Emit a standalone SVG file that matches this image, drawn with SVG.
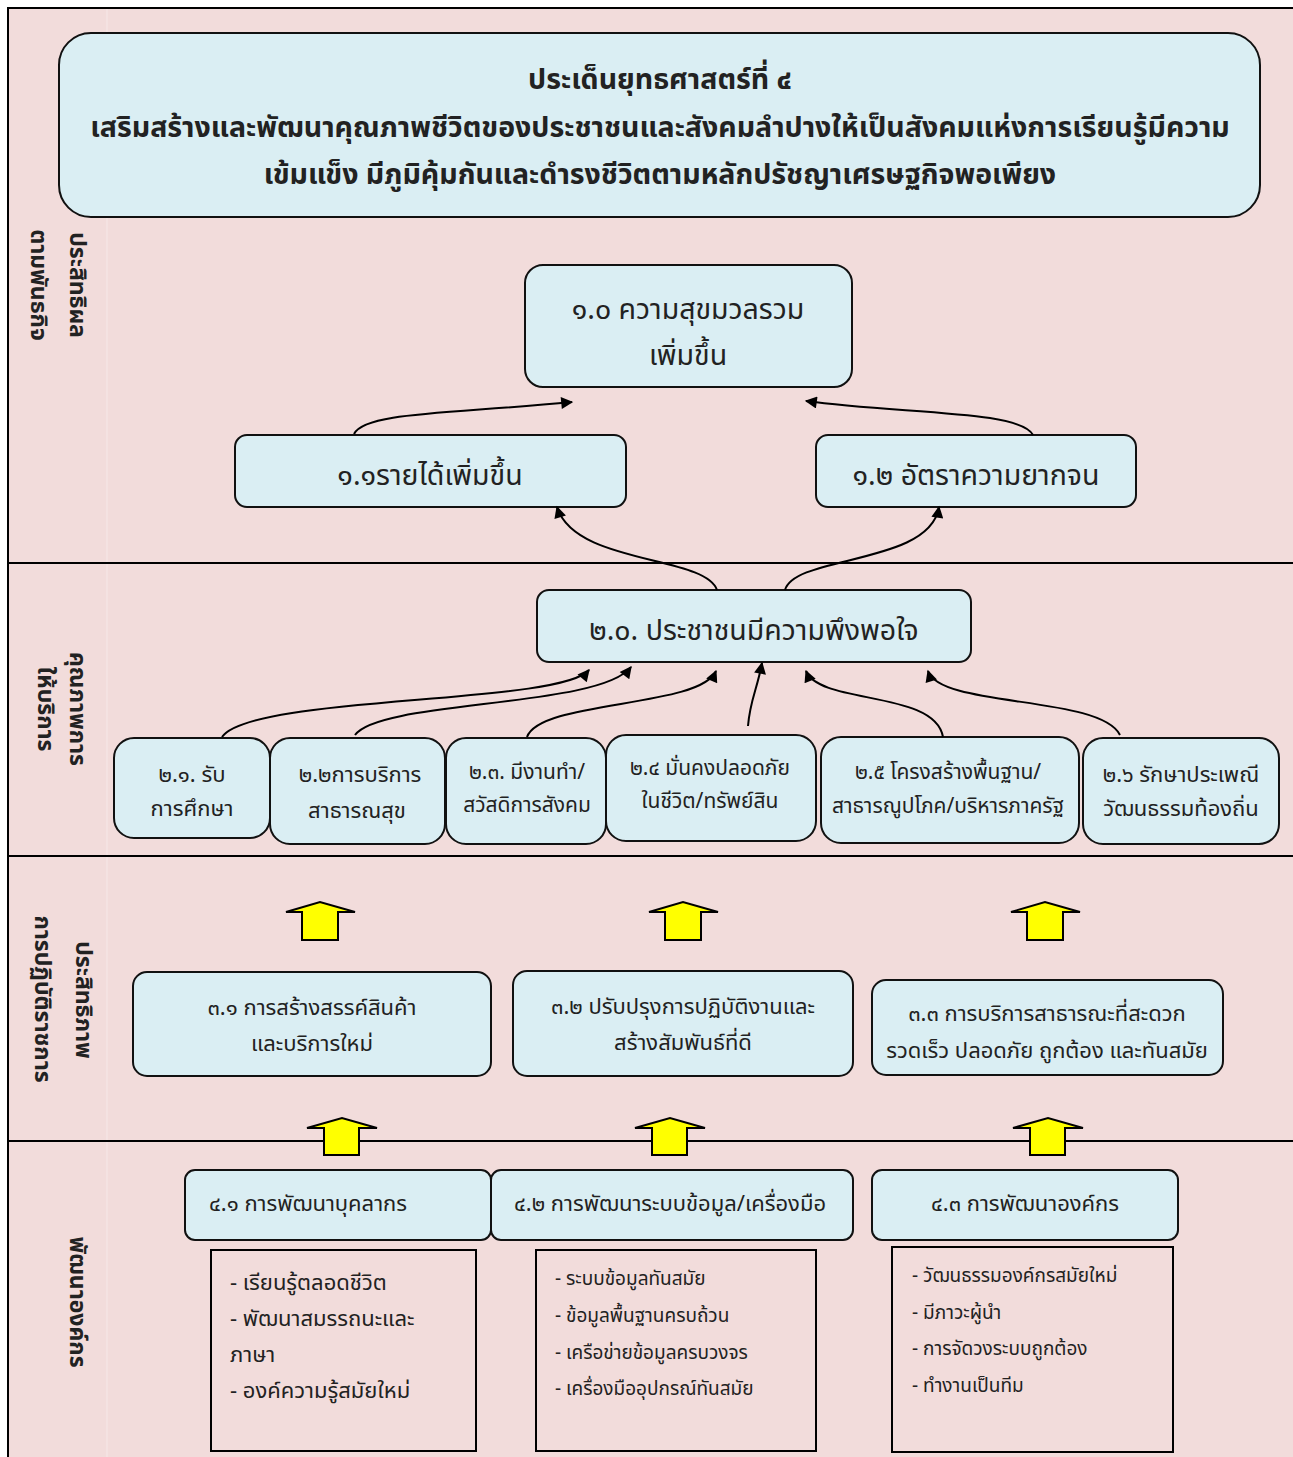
<svg xmlns="http://www.w3.org/2000/svg" width="1293" height="1457" viewBox="0 0 1293 1457">
<defs>
<marker id="ah" viewBox="0 0 10 10" refX="9" refY="5" markerWidth="15" markerHeight="12" markerUnits="userSpaceOnUse" orient="auto">
<path d="M0,0 L10,5 L0,10 z" fill="#000"/>
</marker>
<style>
.t{font-family:"Noto Sans Thai","Noto Sans","DejaVu Sans",sans-serif;fill:#222;text-anchor:middle}
.b{fill:#DAEEF3;stroke:#111;stroke-width:2}
.r{fill:#F2DCDB;stroke:#000;stroke-width:2}
.c{fill:none;stroke:#000;stroke-width:2;marker-end:url(#ah)}
.y{fill:#FFFF00;stroke:#000;stroke-width:2}
.l{text-anchor:start}
.v{font-size:23px;font-weight:bold}
.h{font-size:28.5px;font-weight:bold}
.m{font-size:28.5px}
.s{font-size:22px}
.s2{font-size:21px}
.s3{font-size:19px}
</style>
</defs>
<rect x="0" y="0" width="1293" height="1457" fill="#fff"/>
<rect x="8" y="8" width="1290" height="1455" fill="#F2DCDB" stroke="#000" stroke-width="2"/>
<line x1="107" y1="9" x2="107" y2="1457" stroke="#f6e8e8" stroke-width="1"/>
<g id="separators" stroke="#000" stroke-width="2">
<line x1="8" y1="563" x2="1293" y2="563"/>
<line x1="8" y1="856" x2="1293" y2="856"/>
<line x1="8" y1="1141" x2="1293" y2="1141"/>
</g>
<g id="side-labels">
<text class="t v" transform="translate(70,285) rotate(90)">ประสิทธิผล</text>
<text class="t v" transform="translate(31,285) rotate(90)">ตามพันธกิจ</text>
<text class="t v" transform="translate(70,709) rotate(90)">คุณภาพการ</text>
<text class="t v" transform="translate(38,709) rotate(90)">ให้บริการ</text>
<text class="t v" transform="translate(76,1000) rotate(90)">ประสิทธิภาพ</text>
<text class="t v" transform="translate(35,999) rotate(90)">การปฏิบัติราชการ</text>
<text class="t v" transform="translate(70,1302) rotate(90)">พัฒนาองค์กร</text>
</g>
<g id="title">
<rect class="b" x="59" y="33" width="1201" height="184" rx="32"/>
<text class="t h" x="660" y="89">ประเด็นยุทธศาสตร์ที่ ๔</text>
<text class="t h" x="660" y="137">เสริมสร้างและพัฒนาคุณภาพชีวิตของประชาชนและสังคมลำปางให้เป็นสังคมแห่งการเรียนรู้มีความ</text>
<text class="t h" x="660" y="184">เข้มแข็ง มีภูมิคุ้มกันและดำรงชีวิตตามหลักปรัชญาเศรษฐกิจพอเพียง</text>
</g>
<g id="n10">
<rect class="b" x="525" y="265" width="327" height="122" rx="18"/>
<text class="t m" x="688" y="319">๑.๐ ความสุขมวลรวม</text>
<text class="t m" x="688" y="365">เพิ่มขึ้น</text>
</g>
<g id="n11">
<rect class="b" x="235" y="435" width="391" height="72" rx="12"/>
<text class="t m" x="430" y="485">๑.๑รายได้เพิ่มขึ้น</text>
</g>
<g id="n12">
<rect class="b" x="816" y="435" width="320" height="72" rx="12"/>
<text class="t m" x="976" y="485">๑.๒ อัตราความยากจน</text>
</g>
<g id="n20">
<rect class="b" x="537" y="590" width="434" height="72" rx="12"/>
<text class="t m" x="754" y="640">๒.๐. ประชาชนมีความพึงพอใจ</text>
</g>
<g id="n21">
<rect class="b" x="114" y="738" width="156" height="100" rx="20"/>
<text class="t s" x="192" y="782">๒.๑. รับ</text>
<text class="t s" x="192" y="816">การศึกษา</text>
</g>
<g id="n22">
<rect class="b" x="270" y="738" width="175" height="106" rx="20"/>
<text class="t s" x="360" y="782">๒.๒การบริการ</text>
<text class="t s" x="357" y="818">สาธารณสุข</text>
</g>
<g id="n23">
<rect class="b" x="446" y="738" width="160" height="106" rx="20"/>
<text class="t s2" x="527" y="779">๒.๓. มีงานทำ/</text>
<text class="t s2" x="527" y="812">สวัสดิการสังคม</text>
</g>
<g id="n24">
<rect class="b" x="606" y="735" width="210" height="106" rx="20"/>
<text class="t s2" x="710" y="775">๒.๔ มั่นคงปลอดภัย</text>
<text class="t s2" x="710" y="808">ในชีวิต/ทรัพย์สิน</text>
</g>
<g id="n25">
<rect class="b" x="821" y="737" width="258" height="106" rx="20"/>
<text class="t s2" x="948" y="779">๒.๕ โครงสร้างพื้นฐาน/</text>
<text class="t s2" x="948" y="813">สาธารณูปโภค/บริหารภาครัฐ</text>
</g>
<g id="n26">
<rect class="b" x="1083" y="738" width="196" height="106" rx="20"/>
<text class="t s" x="1181" y="782">๒.๖ รักษาประเพณี</text>
<text class="t s" x="1181" y="816">วัฒนธรรมท้องถิ่น</text>
</g>
<g id="n31">
<rect class="b" x="133" y="972" width="358" height="104" rx="14"/>
<text class="t s" x="312" y="1015">๓.๑ การสร้างสรรค์สินค้า</text>
<text class="t s" x="312" y="1051">และบริการใหม่</text>
</g>
<g id="n32">
<rect class="b" x="513" y="971" width="340" height="105" rx="14"/>
<text class="t s" x="683" y="1014">๓.๒ ปรับปรุงการปฏิบัติงานและ</text>
<text class="t s" x="683" y="1050">สร้างสัมพันธ์ที่ดี</text>
</g>
<g id="n33">
<rect class="b" x="872" y="980" width="351" height="95" rx="14"/>
<text class="t s" x="1047" y="1021">๓.๓ การบริการสาธารณะที่สะดวก</text>
<text class="t s" x="1047" y="1058">รวดเร็ว ปลอดภัย ถูกต้อง และทันสมัย</text>
</g>
<g id="n41">
<rect class="b" x="185" y="1170" width="306" height="70" rx="10"/>
<text class="t s" x="308" y="1211">๔.๑ การพัฒนาบุคลากร</text>
</g>
<g id="n42">
<rect class="b" x="491" y="1170" width="362" height="70" rx="10"/>
<text class="t s" x="670" y="1211">๔.๒ การพัฒนาระบบข้อมูล/เครื่องมือ</text>
</g>
<g id="n43">
<rect class="b" x="872" y="1170" width="306" height="70" rx="10"/>
<text class="t s" x="1025" y="1211">๔.๓ การพัฒนาองค์กร</text>
</g>
<g id="list41">
<rect class="r" x="211" y="1250" width="265" height="201"/>
<text class="t l s" x="230" y="1290">- เรียนรู้ตลอดชีวิต</text>
<text class="t l s" x="230" y="1326">- พัฒนาสมรรถนะและ</text>
<text class="t l s" x="230" y="1362">ภาษา</text>
<text class="t l s" x="230" y="1398">- องค์ความรู้สมัยใหม่</text>
</g>
<g id="list42">
<rect class="r" x="536" y="1250" width="280" height="201"/>
<text class="t l s3" x="555" y="1285">- ระบบข้อมูลทันสมัย</text>
<text class="t l s3" x="555" y="1322">- ข้อมูลพื้นฐานครบถ้วน</text>
<text class="t l s3" x="555" y="1359">- เครือข่ายข้อมูลครบวงจร</text>
<text class="t l s3" x="555" y="1395">- เครื่องมืออุปกรณ์ทันสมัย</text>
</g>
<g id="list43">
<rect class="r" x="892" y="1247" width="281" height="205"/>
<text class="t l s3" x="912" y="1282">- วัฒนธรรมองค์กรสมัยใหม่</text>
<text class="t l s3" x="912" y="1319">- มีภาวะผู้นำ</text>
<text class="t l s3" x="912" y="1355">- การจัดวงระบบถูกต้อง</text>
<text class="t l s3" x="912" y="1392">- ทำงานเป็นทีม</text>
</g>
<g id="block-arrows">
<path class="y" d="M302,940 L302,912 L286,912 L320,902 L355,912 L338,912 L338,940 Z"/>
<path class="y" d="M665,940 L665,912 L649,912 L683,902 L718,912 L701,912 L701,940 Z"/>
<path class="y" d="M1027,940 L1027,912 L1011,912 L1045,902 L1080,912 L1063,912 L1063,940 Z"/>
<path class="y" d="M324,1155 L324,1128 L307,1128 L342,1118 L377,1128 L359,1128 L359,1155 Z"/>
<path class="y" d="M652,1155 L652,1128 L635,1128 L670,1118 L705,1128 L687,1128 L687,1155 Z"/>
<path class="y" d="M1030,1155 L1030,1128 L1013,1128 L1048,1118 L1083,1128 L1065,1128 L1065,1155 Z"/>
</g>
<g id="connectors">
<path class="c" d="M354,434 C365,412 450,414 572,402"/>
<path class="c" d="M1033,435 C1020,410 900,414 806,401"/>
<path class="c" d="M717,590 C705,555 575,565 557,507"/>
<path class="c" d="M785,590 C795,555 930,565 939,507"/>
<path class="c" d="M222,737 C250,695 560,705 589,670"/>
<path class="c" d="M355,735 C380,700 600,708 631,667"/>
<path class="c" d="M527,737 C540,700 700,708 716,671"/>
<path class="c" d="M748,726 C750,700 757,690 762,663"/>
<path class="c" d="M943,737 C935,690 820,705 806,671"/>
<path class="c" d="M1120,735 C1100,695 940,708 928,671"/>
</g>
</svg>
